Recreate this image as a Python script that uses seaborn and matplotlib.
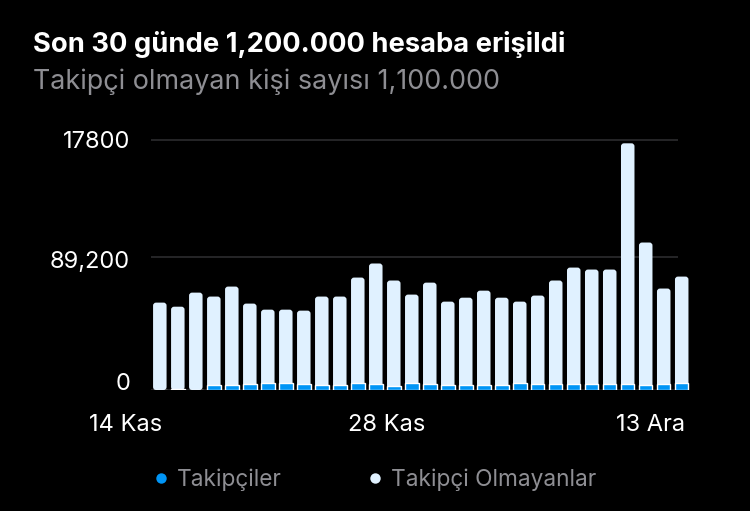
import numpy as np
import pandas as pd
import matplotlib
matplotlib.use("Agg")
import matplotlib.pyplot as plt
import matplotlib.transforms as mtransforms
from matplotlib.patches import FancyBboxPatch
from matplotlib.lines import Line2D
import seaborn as sns

# ---- data ----
days = [f"d{i+1}" for i in range(30)]
total_reach = [62100, 59200, 69200, 66400, 73500, 61400, 57100, 57100, 56400, 66400,
               66400, 79900, 89900, 77800, 67800, 76300, 62800, 65600, 70600, 65600,
               62800, 67100, 77800, 87000, 85600, 85600, 175300, 104800, 72100, 80600]
followers = [300, 700, 300, 3200, 3900, 4600, 5300, 5100, 4400, 3900,
             3200, 4900, 4600, 2700, 4900, 4400, 3900, 3400, 3900, 3400,
             4900, 4600, 4600, 4600, 4400, 4400, 4600, 3900, 4600, 5300]
x_tick_idx = [0, 14, 29]
x_tick_labels = ["14 Kas", "28 Kas", "13 Ara"]
y_tick_values = [0, 94800, 178000]
y_tick_labels = ["0", "89,200", "17800"]
title = "Son 30 günde 1,200.000 hesaba erişildi"
subtitle = "Takipçi olmayan kişi sayısı 1,100.000"
legend_labels = ["Takipçiler", "Takipçi Olmayanlar"]

BLUE = "#0095F6"
LIGHT = "#E0F1FF"
GRAY = "#8E8E93"
GRID = "#2C2C2E"

sns.set_theme(style="dark")
plt.rcParams["font.family"] = ["Inter", "DejaVu Sans"]

df = pd.DataFrame({"day": days, "total": total_reach, "followers": followers})

W, H = 750, 511
fig = plt.figure(figsize=(W / 100, H / 100), dpi=100, facecolor="black")
ax_l, ax_r, ax_b, ax_t = 151, 690, 390, 130
ax = fig.add_axes([ax_l / W, (H - ax_b) / H, (ax_r - ax_l) / W, (ax_b - ax_t) / H])
ax.set_facecolor("black")

sns.barplot(data=df, x="day", y="total", color=LIGHT, width=0.75,
            saturation=1, ax=ax, zorder=2)
n_white = len(ax.patches)
sns.barplot(data=df, x="day", y="followers", color=BLUE, width=0.75,
            saturation=1, ax=ax, zorder=3)

ax.set_xlim(-0.49, 29.46)
ax.set_ylim(0, 178000 + 9.5 * 712)

# rounded tops on the white bars
px_x = 1 / 18.0
px_y = (ax.get_ylim()[1]) / (ax_b - ax_t)
aspect = px_y / px_x
for p in list(ax.patches[:n_white]):
    x0, y0 = p.get_x(), p.get_y()
    w, h = p.get_width(), p.get_height()
    r = 3 * px_x
    fb = FancyBboxPatch((x0, y0), w, h,
                        boxstyle=f"round,pad=0,rounding_size={r}",
                        mutation_aspect=aspect, facecolor=LIGHT,
                        edgecolor="none", zorder=2)
    p.set_visible(False)
    ax.add_patch(fb)

# grid lines
for v in y_tick_values:
    ax.hlines(v, -0.49, 28.78, color=GRID, lw=1.2, zorder=1)

for s in ax.spines.values():
    s.set_visible(False)
ax.grid(False)
ax.set_xlabel("")
ax.set_ylabel("")

# y ticks
ax.set_yticks(y_tick_values)
ax.set_yticklabels(y_tick_labels)
ax.tick_params(axis="y", length=0, pad=15, labelsize=17, labelcolor="white")
for lbl, v in zip(ax.get_yticklabels(), y_tick_values):
    dy = 9 if v == 0 else (-3 if v == y_tick_values[1] else 0)
    lbl.set_transform(lbl.get_transform() + mtransforms.ScaledTranslation(0, dy / 100, fig.dpi_scale_trans))

# x ticks (right-aligned near the bar)
x_offsets = [0.12, 0.73, 0.18]
ax.set_xticks([i + o for i, o in zip(x_tick_idx, x_offsets)])
ax.set_xticklabels(x_tick_labels, ha="right")
ax.tick_params(axis="x", length=0, pad=17, labelsize=17, labelcolor="white")

# title / subtitle
fig.text(33 / W, (H - 52) / H, title, color="white", fontsize=19.7,
         fontweight="bold", va="baseline", ha="left")
fig.text(33 / W, (H - 89) / H, subtitle, color=GRAY, fontsize=19.4,
         va="baseline", ha="left")

# legend
handles = [Line2D([], [], marker="o", ls="none", markersize=7.5,
                  markerfacecolor=BLUE, markeredgecolor="none"),
           Line2D([], [], marker="o", ls="none", markersize=7.5,
                  markerfacecolor=LIGHT, markeredgecolor="none")]
leg = fig.legend(handles, legend_labels, loc="center left",
                 bbox_to_anchor=(150 / W, (H - 480) / H), ncol=2,
                 frameon=False, fontsize=16.3, handletextpad=0.2,
                 columnspacing=3.6, handlelength=1.0, borderpad=0, borderaxespad=0)
for t in leg.get_texts():
    t.set_color(GRAY)

fig.savefig("out.png", dpi=100, facecolor="black")
